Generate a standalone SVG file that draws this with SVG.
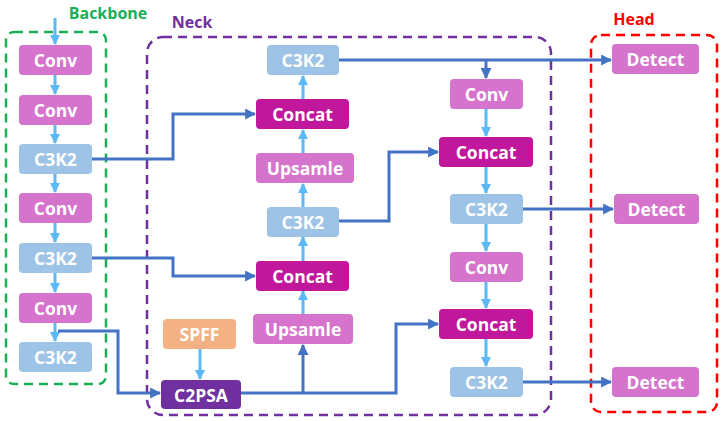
<svg xmlns="http://www.w3.org/2000/svg" width="723" height="421" viewBox="0 0 723 421">
<style>
text{font-family:"Open Sans","Noto Sans","DejaVu Sans",sans-serif;font-weight:bold;}
.lbl{fill:#fff;font-size:17.5px;text-anchor:middle;dominant-baseline:central;}
.conv{fill:#D673CC;}
.c3k2{fill:#9DC3E6;}
.concat{fill:#C0179C;}
.spff{fill:#F4B183;}
.c2psa{fill:#7030A0;}
.light{stroke:#5BB9F7;stroke-width:3;fill:none;marker-end:url(#la);}
.dark{stroke:#4472C4;stroke-width:3;fill:none;}
.darka{marker-end:url(#da);}
.box{fill:none;stroke-width:2.5;stroke-dasharray:9 6;}
.title{font-size:16px;text-anchor:middle;}
</style>
<defs>
<marker id="la" viewBox="0 0 10 10" refX="9" refY="5" markerWidth="10" markerHeight="10" markerUnits="userSpaceOnUse" orient="auto"><path d="M0,0 L10,5 L0,10 z" fill="#5BB9F7"/></marker>
<marker id="da" viewBox="0 0 10 10" refX="9" refY="5" markerWidth="11" markerHeight="11" markerUnits="userSpaceOnUse" orient="auto"><path d="M0,0 L10,5 L0,10 z" fill="#4472C4"/></marker>
</defs>
<rect width="723" height="421" fill="#fff"/>
<g id="groups">
<rect class="box" x="6" y="32" width="100" height="352" rx="8" stroke="#1AAF54"/>
<text class="title" x="108" y="19" fill="#1AAF54">Backbone</text>
<rect class="box" x="147" y="37" width="404" height="378" rx="16" stroke="#7030A0"/>
<text class="title" x="192" y="28" fill="#7030A0">Neck</text>
<rect class="box" x="591" y="35" width="126" height="377" rx="10" stroke="#FF0000"/>
<text class="title" x="634" y="25" fill="#FF0000">Head</text>
</g>
<g id="connectors">
<path class="light" d="M55,18 V44"/>
<path class="light" d="M55,75 V94"/>
<path class="light" d="M55,125 V143"/>
<path class="light" d="M55,174 V192"/>
<path class="light" d="M55,223 V242"/>
<path class="light" d="M55,273 V292"/>
<path class="light" d="M55,323 V341"/>
<path class="light" d="M200,349 V379"/>
<path class="light" d="M303,314 V291"/>
<path class="light" d="M303,261 V237"/>
<path class="light" d="M303,207 V184"/>
<path class="light" d="M303,153 V130"/>
<path class="light" d="M303,99 V76"/>
<path class="light" d="M486,109 V136"/>
<path class="light" d="M486,167 V193"/>
<path class="light" d="M486,224 V251"/>
<path class="light" d="M486,282 V308"/>
<path class="light" d="M486,339 V366"/>
<path class="dark darka" d="M92,159 H173 V114 H255"/>
<path class="dark darka" d="M92,258 H173 V276 H255"/>
<path class="dark darka" d="M58,331 H118 V393 H160"/>
<path class="dark darka" d="M241,393 H396 V324 H438"/>
<path class="dark darka" d="M303,393 V345"/>
<path class="dark darka" d="M339,60 H611"/>
<path class="dark darka" d="M486,60 V78"/>
<path class="dark darka" d="M339,221 H389 V152 H438"/>
<path class="dark darka" d="M523,209 H613"/>
<path class="dark darka" d="M523,382 H611"/>
</g>
<g id="b_conv1"><rect class="conv" x="19" y="45" width="73" height="30" rx="4"/><text class="lbl" x="55.5" y="60">Conv</text></g>
<g id="b_conv2"><rect class="conv" x="19" y="95" width="73" height="30" rx="4"/><text class="lbl" x="55.5" y="110">Conv</text></g>
<g id="b_c3k2_1"><rect class="c3k2" x="19" y="144" width="73" height="30" rx="4"/><text class="lbl" x="55.5" y="159">C3K2</text></g>
<g id="b_conv3"><rect class="conv" x="19" y="193" width="73" height="30" rx="4"/><text class="lbl" x="55.5" y="208">Conv</text></g>
<g id="b_c3k2_2"><rect class="c3k2" x="19" y="243" width="73" height="30" rx="4"/><text class="lbl" x="55.5" y="258">C3K2</text></g>
<g id="b_conv4"><rect class="conv" x="19" y="293" width="73" height="30" rx="4"/><text class="lbl" x="55.5" y="308">Conv</text></g>
<g id="b_c3k2_3"><rect class="c3k2" x="19" y="342" width="73" height="30" rx="4"/><text class="lbl" x="55.5" y="357">C3K2</text></g>
<g id="spff"><rect class="spff" x="163" y="319" width="73" height="30" rx="4"/><text class="lbl" x="199.5" y="334">SPFF</text></g>
<g id="c2psa"><rect class="c2psa" x="161" y="380" width="80" height="29" rx="4"/><text class="lbl" x="201" y="394.5">C2PSA</text></g>
<g id="n_c3k2_top"><rect class="c3k2" x="267" y="45" width="72" height="30" rx="4"/><text class="lbl" x="303" y="60">C3K2</text></g>
<g id="n_concat1"><rect class="concat" x="256" y="99" width="93" height="30" rx="4"/><text class="lbl" x="302.5" y="114">Concat</text></g>
<g id="n_upsample1"><rect class="conv" x="256" y="153" width="98" height="30" rx="4"/><text class="lbl" x="305" y="168">Upsamle</text></g>
<g id="n_c3k2_mid"><rect class="c3k2" x="267" y="207" width="72" height="30" rx="4"/><text class="lbl" x="303" y="222">C3K2</text></g>
<g id="n_concat2"><rect class="concat" x="256" y="261" width="93" height="30" rx="4"/><text class="lbl" x="302.5" y="276">Concat</text></g>
<g id="n_upsample2"><rect class="conv" x="253" y="314" width="100" height="30" rx="4"/><text class="lbl" x="303" y="329">Upsamle</text></g>
<g id="n_conv_r1"><rect class="conv" x="450" y="79" width="73" height="30" rx="4"/><text class="lbl" x="486.5" y="94">Conv</text></g>
<g id="n_concat_r1"><rect class="concat" x="439" y="137" width="94" height="30" rx="4"/><text class="lbl" x="486" y="152">Concat</text></g>
<g id="n_c3k2_r1"><rect class="c3k2" x="450" y="194" width="73" height="30" rx="4"/><text class="lbl" x="486.5" y="209">C3K2</text></g>
<g id="n_conv_r2"><rect class="conv" x="450" y="252" width="73" height="30" rx="4"/><text class="lbl" x="486.5" y="267">Conv</text></g>
<g id="n_concat_r2"><rect class="concat" x="439" y="309" width="94" height="30" rx="4"/><text class="lbl" x="486" y="324">Concat</text></g>
<g id="n_c3k2_r2"><rect class="c3k2" x="450" y="367" width="73" height="30" rx="4"/><text class="lbl" x="486.5" y="382">C3K2</text></g>
<g id="detect1"><rect class="conv" x="612" y="44" width="87" height="30" rx="4"/><text class="lbl" x="655.5" y="59">Detect</text></g>
<g id="detect2"><rect class="conv" x="614" y="194" width="85" height="30" rx="4"/><text class="lbl" x="656.5" y="209">Detect</text></g>
<g id="detect3"><rect class="conv" x="612" y="367" width="87" height="30" rx="4"/><text class="lbl" x="655.5" y="382">Detect</text></g>
</svg>
